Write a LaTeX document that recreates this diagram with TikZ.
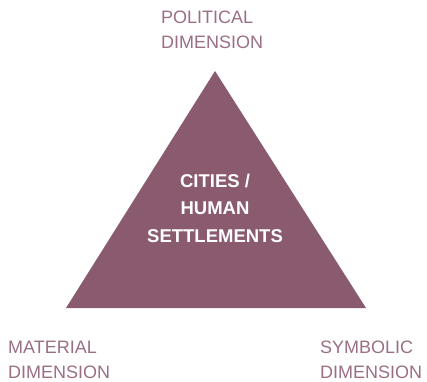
\documentclass[tikz,border=0pt]{standalone}
\usepackage{fontspec}
\setmainfont{Liberation Sans}
\usepackage{xcolor}
\definecolor{plum}{HTML}{8A5A6E}
\definecolor{plumtext}{HTML}{9A6F84}

\begin{document}
\begin{tikzpicture}[x=1pt,y=-1pt,
    dim/.style={
      anchor=base west,
      inner sep=0pt,
      align=left,
      text=plumtext,
      font=\fontsize{18}{25}\selectfont
    },
    core/.style={
      anchor=base,
      inner sep=0pt,
      align=center,
      text=white,
      font=\bfseries\fontsize{18.5}{27.5}\selectfont
    }]
  \useasboundingbox (0,0) rectangle (427,381);
  \coordinate (top) at (215,71);
  \coordinate (left) at (66,308);
  \coordinate (right) at (366,308);
  \fill[plum] (top) -- (left) -- (right) -- cycle;
  % base anchor sits on the last line
  \node[core] (city) at (215,242) {CITIES /\\HUMAN\\SETTLEMENTS};
  \node[dim] (political) at (161,48) {POLITICAL\\DIMENSION};
  \node[dim] (material) at (8,378) {MATERIAL\\DIMENSION};
  \node[dim] (symbolic) at (320,378) {SYMBOLIC\\DIMENSION};
\end{tikzpicture}
\end{document}
